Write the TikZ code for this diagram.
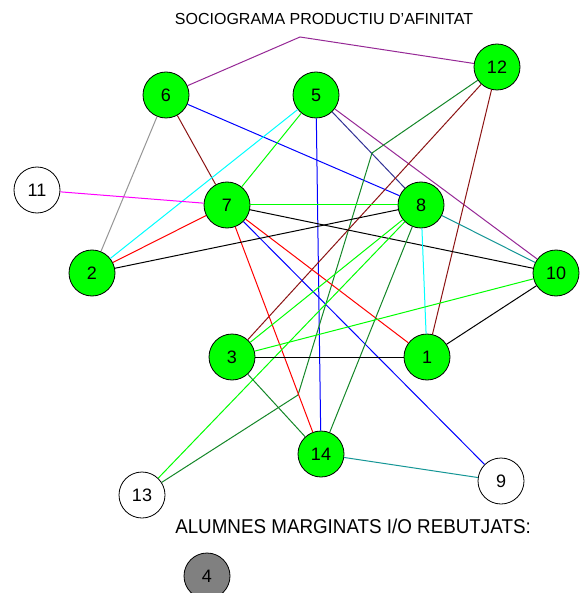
\documentclass[tikz,border=0pt]{standalone}
\usepackage{fontspec}
\setmainfont{Liberation Sans}
\definecolor{cLime}{RGB}{0,255,0}
\definecolor{cDkGreen}{RGB}{20,135,40}
\definecolor{cBrown}{RGB}{140,20,20}
\definecolor{cPurple}{RGB}{150,40,150}
\definecolor{cNavy}{RGB}{50,50,150}
\definecolor{cTeal}{RGB}{20,150,150}
\definecolor{cGray}{RGB}{150,150,150}
\definecolor{cCyan}{RGB}{0,255,255}
\definecolor{cMagenta}{RGB}{255,0,255}
\definecolor{cBlue}{RGB}{0,0,255}
\definecolor{cRed}{RGB}{255,0,0}
\definecolor{cNodeGray}{RGB}{128,128,128}
\begin{document}
\begin{tikzpicture}[x=1pt,y=-1pt,
  person/.style={circle,draw=black,line width=0.8pt,minimum size=46pt,inner sep=0pt,
    font=\fontsize{18}{18}\selectfont},
  chosen/.style={person,fill=cLime},
  lone/.style={person,fill=white},
  rejected/.style={person,fill=cNodeGray},
  link/.style={line width=1pt},
  titletext/.style={font=\fontsize{16}{16}\selectfont},
  labeltext/.style={font=\fontsize{20}{20}\selectfont,xscale=0.94}]
\useasboundingbox (0,0) rectangle (580,593);
\fill[white] (0,0) rectangle (580,593);

\node[titletext] (title) at (324,19) {SOCIOGRAMA PRODUCTIU D'AFINITAT};
\node[labeltext] (caption) at (353,526) {ALUMNES MARGINATS I/O REBUTJATS:};

\node[chosen] (n6) at (166,95) {6};
\node[chosen] (n5) at (316,95) {5};
\node[chosen] (n12) at (497,67) {12};
\node[lone] (n11) at (37,190) {11};
\node[chosen] (n7) at (227,205) {7};
\node[chosen] (n8) at (421,205) {8};
\node[chosen] (n2) at (92,273) {2};
\node[chosen] (n10) at (556,273) {10};
\node[chosen] (n3) at (232,357) {3};
\node[chosen] (n1) at (427,357) {1};
\node[chosen] (n14) at (321,454) {14};
\node[lone] (n13) at (142,495) {13};
\node[lone] (n9) at (501,481) {9};
\node[rejected] (n4) at (207,576) {4};

\coordinate (b1) at (300,37);
\coordinate (b2) at (372,153);
\coordinate (b3) at (298,395);

\draw[link,cPurple] (n6) -- (b1) -- (n12);
\draw[link,cBlue] (n6) -- (n8);
\draw[link,cBrown] (n6) -- (n7);
\draw[link,cGray] (n6) -- (n2);
\draw[link,cLime] (n5) -- (n7);
\draw[link,cCyan] (n5) -- (n2);
\draw[link,cBlue] (n5) -- (n14);
\draw[link,cNavy] (n5) -- (n8);
\draw[link,cPurple] (n5) -- (n10);
\draw[link,cDkGreen] (n12) -- (b2) -- (b3) -- (n13);
\draw[link,cBrown] (n12) -- (n3);
\draw[link,cBrown] (n12) -- (n1);
\draw[link,cMagenta] (n11) -- (n7);
\draw[link,cLime] (n7) -- (n8);
\draw[link,black] (n7) -- (n10);
\draw[link,cRed] (n7) -- (n2);
\draw[link,cRed] (n7) -- (n1);
\draw[link,cRed] (n7) -- (n14);
\draw[link,cBlue] (n7) -- (n9);
\draw[link,black] (n8) -- (n2);
\draw[link,cTeal] (n8) -- (n10);
\draw[link,cCyan] (n8) -- (n1);
\draw[link,cLime] (n8) -- (n3);
\draw[link,cLime] (n8) -- (n13);
\draw[link,cDkGreen] (n8) -- (n14);
\draw[link,cLime] (n10) -- (n3);
\draw[link,black] (n10) -- (n1);
\draw[link,black] (n3) -- (n1);
\draw[link,cDkGreen] (n3) -- (n14);
\draw[link,cTeal] (n14) -- (n9);
\end{tikzpicture}
\end{document}
